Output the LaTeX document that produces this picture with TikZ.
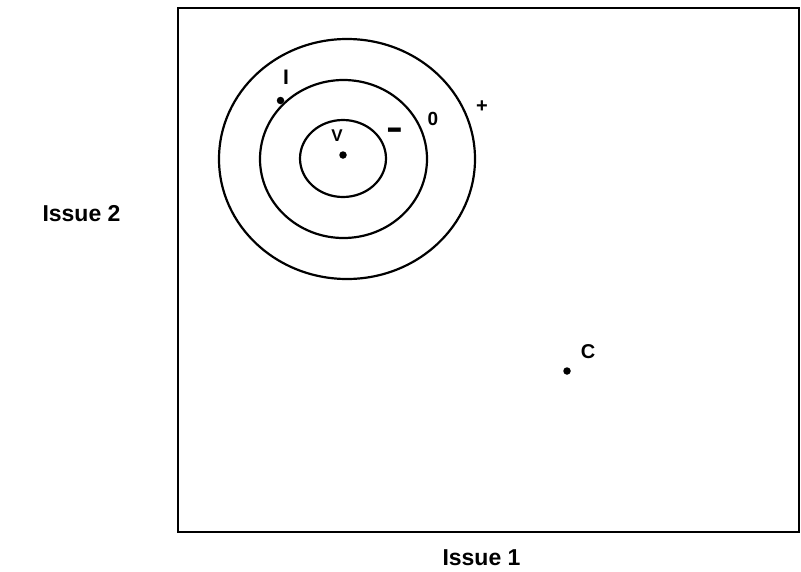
\documentclass[tikz,border=0pt]{standalone}
\usepackage{fontspec}
\setmainfont{Liberation Sans}
\begin{document}
\begin{tikzpicture}[x=1pt,y=-1pt,
  axislabel/.style={font=\fontsize{23}{26}\selectfont\bfseries, inner sep=0pt},
  smalllabel/.style={font=\fontsize{19}{22}\selectfont\bfseries, inner sep=0pt},
  ring/.style={draw=black, line width=2.2pt},
  pt/.style={circle, fill=black, inner sep=0pt, minimum size=7.5pt}]
\useasboundingbox (0,0) rectangle (801,571);
% frame
\draw[line width=2.5pt] (178,8) rectangle (799,532);
% rings
\draw[ring] (347,159) ellipse [x radius=128, y radius=120];
\draw[ring] (343.5,159) ellipse [x radius=83.5, y radius=79];
\draw[ring] (343,158.5) ellipse [x radius=43, y radius=38.5];
% points
\node[pt] (vdot) at (343,155) {};
\node[pt] (idot) at (280.5,100.5) {};
\node[pt] (cdot) at (567,371) {};
% labels
\node[smalllabel, font=\fontsize{17}{20}\selectfont\bfseries] (vlab) at (337,136) {V};
\node[smalllabel, font=\fontsize{21}{24}\selectfont\bfseries] (ilab) at (286,77.5) {I};
\node[smalllabel] (zero) at (433,119) {0};
\node[smalllabel, font=\fontsize{20}{22}\selectfont\bfseries] (plus) at (482,107) {+};
\node[inner sep=0pt, font=\fontsize{36}{40}\selectfont\bfseries] (minus) at (395,134) {\scalebox{1.4}[1]{-}};
\node[smalllabel, font=\fontsize{20}{22}\selectfont\bfseries] (clab) at (588,351.5) {C};
\node[axislabel] (iss2) at (81.5,213.5) {Issue 2};
\node[axislabel] (iss1) at (481.5,558) {Issue 1};
\end{tikzpicture}
\end{document}
